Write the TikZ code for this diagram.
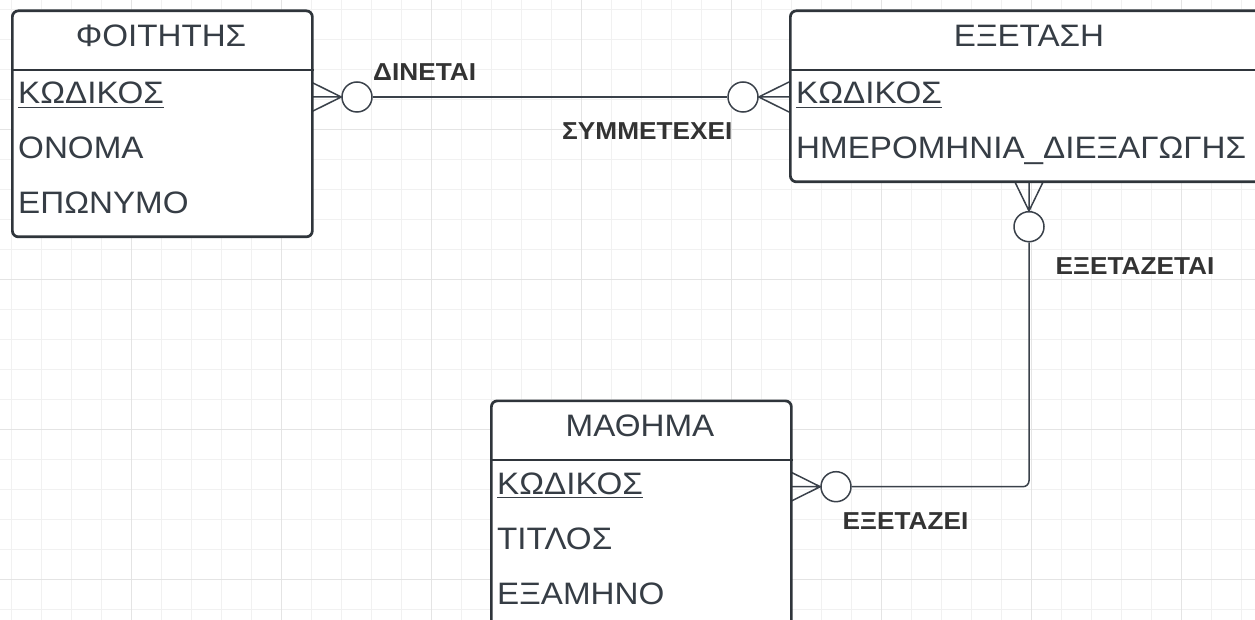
\documentclass[tikz,border=0pt]{standalone}
\usepackage{fontspec}
\setmainfont{Liberation Sans}[FakeStretch=1.07]
\definecolor{bordc}{HTML}{2F353B}
\definecolor{txtc}{HTML}{363D45}
\definecolor{lblc}{HTML}{333333}
\definecolor{linec}{HTML}{3A414A}
\definecolor{gridminor}{HTML}{F1F1F1}
\definecolor{gridmajor}{HTML}{E4E4E4}
\begin{document}
\begin{tikzpicture}[x=1pt,y=-1pt,
  entbox/.style={draw=bordc, line width=2.7pt, rounded corners=6pt, fill=white, anchor=north west, inner sep=0pt},
  sepline/.style={draw=bordc, line width=2.7pt},
  hdr/.style={anchor=base, inner sep=0pt, text=txtc, font=\fontsize{31}{37}\selectfont},
  attr/.style={anchor=base west, inner sep=0pt, text=txtc, font=\fontsize{31}{37}\selectfont},
  ul/.style={draw=txtc, line width=1.6pt},
  conn/.style={draw=linec, line width=1.5pt},
  opt/.style={circle, draw=linec, line width=1.5pt, minimum size=30pt, inner sep=0pt, fill=white},
  lbl/.style={anchor=base west, inner sep=0pt, text=lblc, font=\bfseries\fontsize{24.5}{30}\selectfont}]
\useasboundingbox (0,0) rectangle (1255,620);
\clip (0,0) rectangle (1255,620);
\fill[white] (0,0) rectangle (1255,620);
% grid
\foreach \gx in {11.7,41.7,...,1255} \draw[gridminor, line width=1pt] (\gx,0) -- (\gx,620);
\foreach \gy in {9.3,39.3,...,620} \draw[gridminor, line width=1pt] (0,\gy) -- (1255,\gy);
\foreach \gx in {131.7,281.7,...,1255} \draw[gridmajor, line width=1.2pt] (\gx,0) -- (\gx,620);
\foreach \gy in {129.3,279.3,...,620} \draw[gridmajor, line width=1.2pt] (0,\gy) -- (1255,\gy);

% connector anchor points on entity edges
\coordinate (foit-r1) at (311,97);
\coordinate (exet-l1) at (789,97);
\coordinate (exet-b) at (1029,180);
\coordinate (math-r1) at (790,486.7);

% optional-many ends
\node[opt] (c1) at (357,97) {};
\node[opt] (c2) at (743,97) {};
\node[opt] (c3) at (1029,226.7) {};
\node[opt] (c4) at (836,486.7) {};

\draw[conn] (c1) -- (c2);
\draw[conn, rounded corners=6pt] (c3) |- (c4);

\draw[conn] ([yshift=15pt]foit-r1) -- (c1.west) -- ([yshift=-15pt]foit-r1) (foit-r1) -- (c1.west);
\draw[conn] ([yshift=15pt]exet-l1) -- (c2.east) -- ([yshift=-15pt]exet-l1) (exet-l1) -- (c2.east);
\draw[conn] ([xshift=-15pt]exet-b) -- (c3.north) -- ([xshift=15pt]exet-b) (exet-b) -- (c3.north);
\draw[conn] ([yshift=15pt]math-r1) -- (c4.west) -- ([yshift=-15pt]math-r1) (math-r1) -- (c4.west);

% entities
\node[entbox, minimum width=300pt, minimum height=226pt] (foit) at (11,9.5) {};
\draw[sepline] ([yshift=-60.5pt]foit.north west) -- ([yshift=-60.5pt]foit.north east);
\node[entbox, minimum width=480pt, minimum height=171pt] (exet) at (789,9.5) {};
\draw[sepline] ([yshift=-60.5pt]exet.north west) -- ([yshift=-60.5pt]exet.north east);
\node[entbox, minimum width=300pt, minimum height=226pt] (math) at (490,399.5) {};
\draw[sepline] ([yshift=-60.5pt]math.north west) -- ([yshift=-60.5pt]math.north east);

% headers
\node[hdr] (foit-h) at (161,46.5) {ΦΟΙΤΗΤΗΣ};
\node[hdr] (exet-h) at (1029,46.5) {ΕΞΕΤΑΣΗ};
\node[hdr] (math-h) at (640,436.5) {ΜΑΘΗΜΑ};

% attributes
\node[attr] (foit-k) at (18,104) {ΚΩΔΙΚΟΣ};
\draw[ul] ([yshift=-3.5pt]foit-k.base west) -- ([yshift=-3.5pt]foit-k.base east);
\node[attr] (foit-o) at (18,159) {ΟΝΟΜΑ};
\node[attr] (foit-e) at (18,214) {ΕΠΩΝΥΜΟ};

\node[attr] (exet-k) at (796,104) {ΚΩΔΙΚΟΣ};
\draw[ul] ([yshift=-3.5pt]exet-k.base west) -- ([yshift=-3.5pt]exet-k.base east);
\node[attr] (exet-d) at (796,159) {ΗΜΕΡΟΜΗΝΙΑ\_ΔΙΕΞΑΓΩΓΗΣ};

\node[attr] (math-k) at (497,494) {ΚΩΔΙΚΟΣ};
\draw[ul] ([yshift=-3.5pt]math-k.base west) -- ([yshift=-3.5pt]math-k.base east);
\node[attr] (math-t) at (497,549) {ΤΙΤΛΟΣ};
\node[attr] (math-s) at (497,604) {ΕΞΑΜΗΝΟ};

% relationship labels
\node[lbl] (l1) at (373,80.7) {ΔΙΝΕΤΑΙ};
\node[lbl] (l2) at (562,139.3) {ΣΥΜΜΕΤΕΧΕΙ};
\node[lbl] (l3) at (1055.5,275) {ΕΞΕΤΑΖΕΤΑΙ};
\node[lbl] (l4) at (842.5,529.5) {ΕΞΕΤΑΖΕΙ};
\end{tikzpicture}
\end{document}
